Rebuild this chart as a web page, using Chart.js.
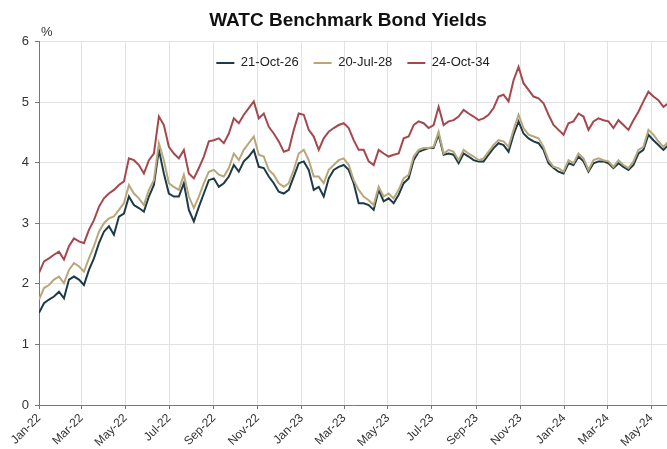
<!DOCTYPE html>
<html>
<head>
<meta charset="utf-8">
<script src="https://cdn.jsdelivr.net/npm/chart.js@4/dist/chart.umd.min.js"></script>
<style>
  html, body { margin: 0; padding: 0; background: #ffffff; }
  #wrap { width: 667px; height: 449px; }
</style>
</head>
<body>
<div id="wrap"><canvas id="c" width="667" height="449"></canvas></div>
<script>
const titleText = 'WATC Benchmark Bond Yields';
const seriesNames = ['21-Oct-26', '20-Jul-28', '24-Oct-34'];
const tickLabels = ['Jan-22','Mar-22','May-22','Jul-22','Sep-22','Nov-22','Jan-23','Mar-23','May-23','Jul-23','Sep-23','Nov-23','Jan-24','Mar-24','May-24'];
const yTicks = [0, 1, 2, 3, 4, 5, 6];
const startDate = '2022-01-01';
const stepDays = 6.944; // roughly weekly samples

const oct26 = [
  1.52,1.68,1.74,1.79,1.87,1.76,2.07,2.12,2.07,1.98,
  2.23,2.42,2.67,2.86,2.95,2.81,3.11,3.16,3.44,3.30,
  3.25,3.19,3.44,3.63,4.21,3.82,3.49,3.44,3.44,3.66,
  3.22,3.03,3.27,3.49,3.71,3.74,3.60,3.66,3.77,3.96,
  3.85,4.02,4.10,4.21,3.93,3.91,3.77,3.66,3.52,3.49,
  3.55,3.77,3.99,4.02,3.88,3.55,3.60,3.44,3.74,3.88,
  3.93,3.96,3.88,3.66,3.33,
  3.33,3.30,3.22,3.55,3.36,3.41,3.33,3.47,3.66,3.74,
  4.04,4.18,4.21,4.24,4.24,4.46,4.13,4.15,4.13,3.99,
  4.15,4.10,4.04,4.02,4.02,4.13,4.24,4.32,4.29,4.18,
  4.46,4.68,4.48,4.40,4.35,4.32,4.21,3.99,3.91,3.85,
  3.82,3.99,3.96,4.10,4.02,3.85,3.99,4.02,4.02,3.99,
  3.91,3.99,3.93,3.88,3.96,4.15,4.21,4.46,4.37,4.29,
  4.21,4.29
];
const jul28 = [
  1.74,1.93,1.98,2.07,2.12,2.01,2.23,2.34,2.29,2.20,
  2.42,2.62,2.86,3.00,3.08,3.11,3.22,3.33,3.63,3.49,
  3.41,3.30,3.55,3.71,4.32,4.04,3.66,3.60,3.55,3.80,
  3.44,3.25,3.44,3.66,3.85,3.88,3.80,3.77,3.91,4.15,
  4.04,4.21,4.32,4.43,4.13,4.10,3.88,3.80,3.66,3.60,
  3.66,3.88,4.15,4.21,4.04,3.77,3.77,3.66,3.88,3.96,
  4.04,4.07,3.96,3.71,3.55,
  3.44,3.38,3.30,3.60,3.44,3.49,3.41,3.55,3.74,3.80,
  4.10,4.21,4.24,4.24,4.26,4.51,4.15,4.21,4.18,4.04,
  4.21,4.15,4.10,4.04,4.07,4.18,4.29,4.37,4.35,4.26,
  4.54,4.79,4.57,4.46,4.43,4.40,4.26,4.04,3.93,3.91,
  3.85,4.04,3.99,4.15,4.07,3.88,4.04,4.07,4.04,4.02,
  3.93,4.04,3.96,3.91,4.02,4.21,4.26,4.54,4.46,4.35,
  4.26,4.35
];
const oct34 = [
  2.18,2.37,2.42,2.48,2.53,2.40,2.62,2.75,2.70,2.67,
  2.89,3.05,3.27,3.41,3.49,3.55,3.63,3.69,4.07,4.04,
  3.96,3.82,4.04,4.15,4.76,4.62,4.26,4.15,4.07,4.21,
  3.82,3.74,3.91,4.10,4.35,4.37,4.40,4.32,4.48,4.73,
  4.65,4.79,4.90,5.01,4.73,4.81,4.59,4.48,4.35,4.18,
  4.21,4.54,4.81,4.79,4.54,4.43,4.21,4.40,4.51,4.57,
  4.62,4.65,4.57,4.37,4.21,
  4.21,4.02,3.96,4.21,4.15,4.10,4.13,4.15,4.40,4.43,
  4.62,4.68,4.65,4.57,4.62,4.92,4.62,4.68,4.70,4.76,
  4.87,4.81,4.76,4.70,4.73,4.79,4.90,5.09,5.12,5.01,
  5.36,5.58,5.31,5.20,5.09,5.06,4.98,4.79,4.62,4.54,
  4.46,4.65,4.68,4.81,4.76,4.54,4.68,4.73,4.70,4.68,
  4.57,4.70,4.62,4.54,4.70,4.84,5.01,5.17,5.09,5.03,
  4.92,4.98
];
const seriesColors = ['#1d3a48', '#b7a87c', '#a5484d'];

const MS_DAY = 86400000;
const t0 = Date.parse(startDate + 'T00:00:00Z');
const monthIdx = {Jan:0,Feb:1,Mar:2,Apr:3,May:4,Jun:5,Jul:6,Aug:7,Sep:8,Oct:9,Nov:10,Dec:11};
const tickDays = tickLabels.map(l => {
  const [m, y] = l.split('-');
  return (Date.UTC(2000 + Number(y), monthIdx[m], 1) - t0) / MS_DAY;
});
const toPoints = arr => arr.map((v, i) => ({ x: i * stepDays, y: v }));

const FONT = "'Liberation Sans', Arial, sans-serif";

// "%" unit label above the value axis
const pctLabel = {
  id: 'pctLabel',
  afterDraw(chart) {
    const ctx = chart.ctx;
    const a = chart.chartArea;
    ctx.save();
    ctx.fillStyle = '#333';
    ctx.font = '13px ' + FONT;
    ctx.textAlign = 'left';
    ctx.textBaseline = 'alphabetic';
    ctx.fillText('%', a.left + 2, a.top - 5);
    ctx.restore();
  }
};

// Let the top legend overlap the plot area: no layout height, but a drawable box.
// Also nudge the title box slightly left to match the reference centring.
const legendOverlay = {
  id: 'legendOverlay',
  beforeLayout(chart) {
    const lg = chart.legend;
    if (lg && !lg._overlayPatched) {
      const origFit = lg.fit.bind(lg);
      lg.fit = function () { origFit(); this.height = 0; };
      lg._overlayPatched = true;
    }
  },
  afterLayout(chart) {
    const lg = chart.legend;
    if (lg) {
      lg.height = 40;
      lg.bottom = lg.top + 40;
    }
    const tb = chart.titleBlock;
    if (tb) {
      tb.left -= 5;
      tb.right -= 5;
    }
  }
};

new Chart(document.getElementById('c'), {
  type: 'line',
  data: {
    datasets: [
      { label: seriesNames[0], data: toPoints(oct26), borderColor: seriesColors[0], backgroundColor: seriesColors[0], borderWidth: 2, pointRadius: 0, tension: 0, order: 2 },
      { label: seriesNames[1], data: toPoints(jul28), borderColor: seriesColors[1], backgroundColor: seriesColors[1], borderWidth: 2, pointRadius: 0, tension: 0, order: 1 },
      { label: seriesNames[2], data: toPoints(oct34), borderColor: seriesColors[2], backgroundColor: seriesColors[2], borderWidth: 2, pointRadius: 0, tension: 0, order: 0 }
    ]
  },
  options: {
    responsive: false,
    animation: false,
    devicePixelRatio: 1,
    layout: { padding: { left: 0, right: 0, top: 0, bottom: 0 } },
    plugins: {
      tooltip: { enabled: false },
      title: {
        display: true,
        text: titleText,
        fullSize: false,
        color: '#111',
        font: { family: FONT, size: 19, weight: 'bold' },
        padding: { top: 9.5, bottom: 9.1 }
      },
      legend: {
        display: true,
        position: 'top',
        fullSize: false,
        align: 'center',
        labels: {
          usePointStyle: true,
          pointStyle: 'line',
          pointStyleWidth: 18,
          color: '#222',
          font: { family: FONT, size: 13 },
          padding: 15,
          sort: (a, b) => a.datasetIndex - b.datasetIndex
        }
      }
    },
    scales: {
      x: {
        type: 'linear',
        min: 0,
        max: 873,
        afterBuildTicks: s => { s.ticks = tickDays.map(v => ({ value: v })); },
        afterFit: s => { s.height = 44; s.paddingLeft = 0; s.paddingRight = 0; },
        ticks: {
          autoSkip: false,
          maxRotation: 45,
          minRotation: 45,
          color: '#333',
          font: { family: FONT, size: 12 },
          padding: 2,
          callback: (v, i) => tickLabels[i]
        },
        grid: { color: '#e2e2e2', lineWidth: 1, tickColor: '#777', tickLength: 4 },
        border: { display: true, color: '#777', width: 1 }
      },
      y: {
        min: 0,
        max: 6,
        afterBuildTicks: s => { s.ticks = yTicks.map(v => ({ value: v })); },
        afterFit: s => { s.width = 39; },
        ticks: {
          color: '#333',
          font: { family: FONT, size: 13 },
          padding: 6
        },
        grid: { color: '#e2e2e2', lineWidth: 1, tickColor: '#777', tickLength: 4 },
        border: { display: true, color: '#777', width: 1 }
      }
    }
  },
  plugins: [pctLabel, legendOverlay]
});
</script>
</body>
</html>
